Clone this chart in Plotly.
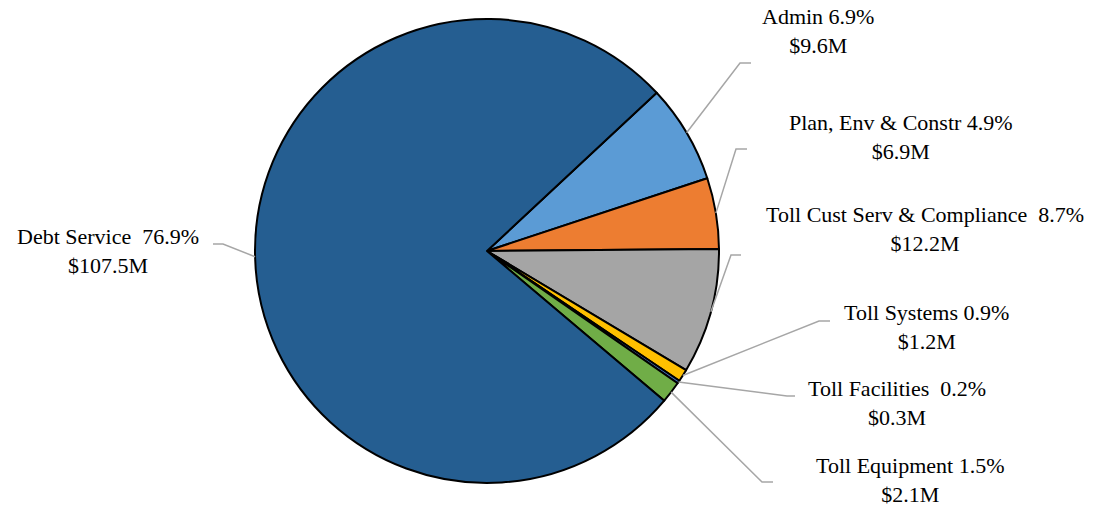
import math
import plotly.graph_objects as go

# Budget by category, $ millions
categories = ["Admin", "Plan, Env & Constr", "Toll Cust Serv & Compliance",
              "Toll Systems", "Toll Facilities", "Toll Equipment", "Debt Service"]
values_m = [9.6, 6.9, 12.2, 1.2, 0.3, 2.1, 107.5]
pct_labels = ["6.9%", "4.9%", "8.7%", "0.9%", "0.2%", "1.5%", "76.9%"]
separators = [" ", " ", "  ", " ", "  ", " ", "  "]
colors = ["#5B9BD5", "#ED7D31", "#A5A5A5", "#FFC000", "#4472C4", "#70AD47", "#255E91"]

W, H = 1113, 510
CX, CY, R = 487, 251, 232      # pie centre and radius in pixels
ROTATION = 47                  # start angle of the first slice, clockwise from 12 o'clock

# label block centre (px) and leader-line elbow/end points (px)
label_pos = [(818, 31), (901, 137), (925, 229), (926, 327), (897, 403), (910, 480), (108, 251)]
elbows = [((740, 63), (751, 63)), ((736, 149), (747, 149)), ((731, 255), (741, 255)),
          ((819, 321), (830, 321)), ((787, 396), (795, 396)), ((762, 482), (773, 482)),
          ((223, 244), (213, 244))]


def px(x):
    return x / W


def py(y):
    return 1 - y / H


fig = go.Figure(go.Pie(
    labels=categories,
    values=values_m,
    sort=False,
    direction="clockwise",
    rotation=ROTATION,
    marker=dict(colors=colors, line=dict(color="#000000", width=2)),
    textinfo="none",
    hovertemplate="%{label}<br>$%{value}M (%{percent})<extra></extra>",
    domain=dict(x=[px(CX - R), px(CX + R)], y=[py(CY + R), py(CY - R)]),
    showlegend=False,
))

total = sum(values_m)
start = ROTATION
shapes, annotations = [], []
for name, v, pct, sep, (lx, ly), (e1, e2) in zip(categories, values_m, pct_labels, separators,
                                                   label_pos, elbows):
    span = v / total * 360
    mid = math.radians(start + span / 2)
    start += span
    sx = CX + R * math.sin(mid)
    sy = CY - R * math.cos(mid)
    path = (f"M {px(sx)} {py(sy)} L {px(e1[0])} {py(e1[1])} "
            f"L {px(e2[0])} {py(e2[1])}")
    shapes.append(dict(type="path", path=path, xref="paper", yref="paper",
                       line=dict(color="#A6A6A6", width=1.5)))
    annotations.append(dict(
        x=px(lx), y=py(ly), xref="paper", yref="paper",
        xanchor="center", yanchor="middle", showarrow=False, align="center",
        text=f"{name}{sep}{pct}<br>${v}M",
        font=dict(family="Liberation Serif, Times New Roman, serif", size=22, color="#000000"),
    ))

fig.update_layout(
    width=W, height=H,
    margin=dict(l=0, r=0, t=0, b=0),
    paper_bgcolor="#FFFFFF",
    plot_bgcolor="#FFFFFF",
    shapes=shapes,
    annotations=annotations,
)

fig.write_html("out.html")
